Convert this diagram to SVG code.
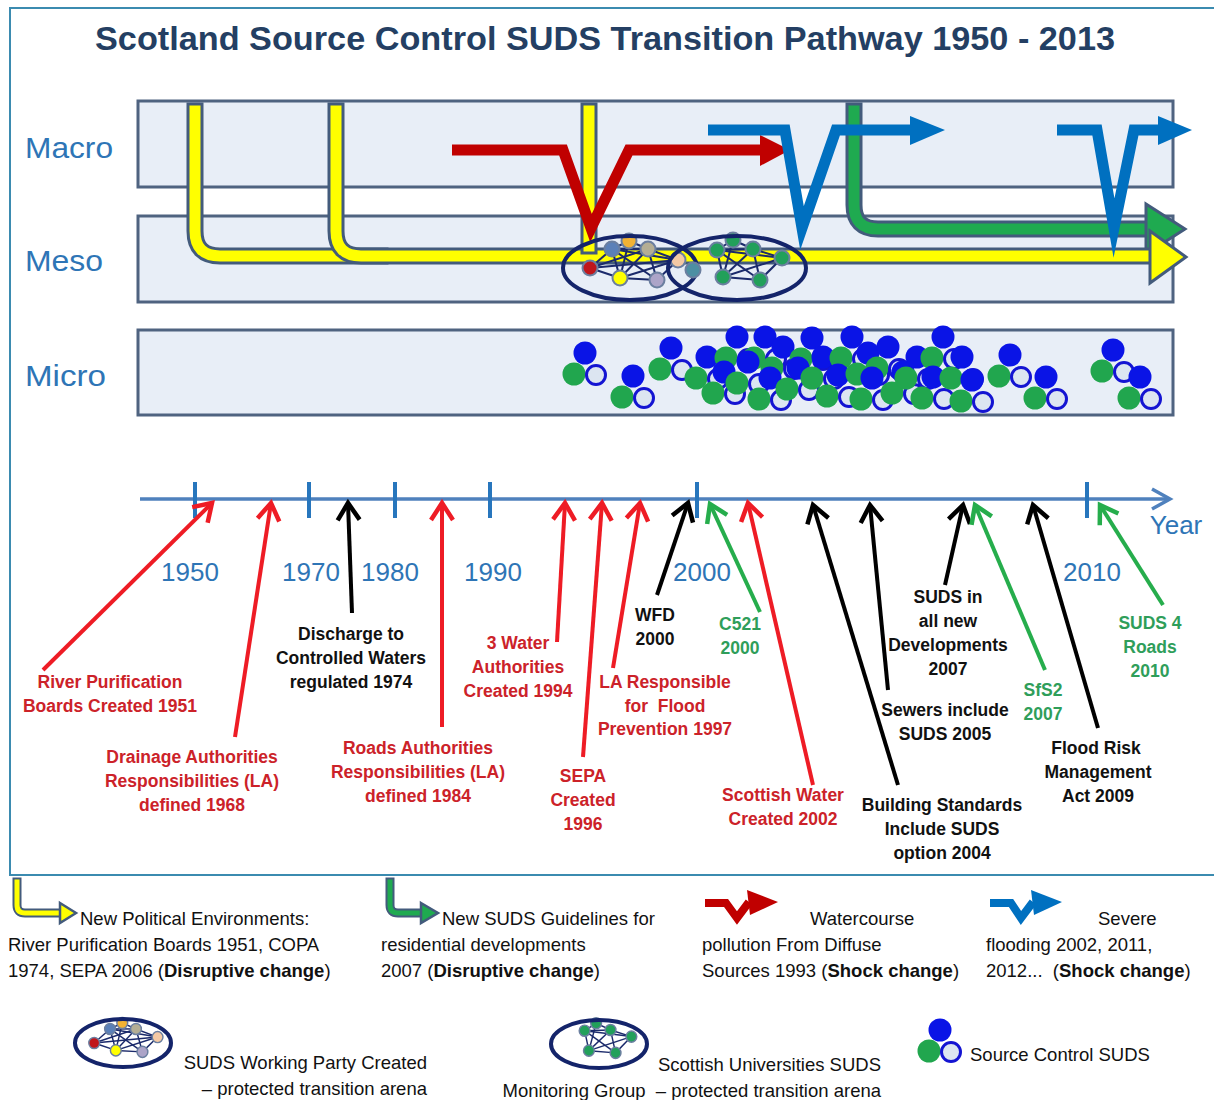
<svg xmlns="http://www.w3.org/2000/svg" width="1214" height="1100" viewBox="0 0 1214 1100">
<style>
text{font-family:"Liberation Sans",Arial,sans-serif}
.band{fill:#e8eef7;stroke:#4f6380;stroke-width:3}
.lvl{font-size:30px;fill:#2e75b6}
.yr{font-size:26px;fill:#2e75b6;text-anchor:middle}
.lb{font-size:17.5px;font-weight:bold;text-anchor:middle}
.r{fill:#cc2229}
.k{fill:#111}
.g{fill:#2f9e5a}
.ar{stroke:#ee1c25;stroke-width:4;fill:none;marker-end:url(#mr)}
.ak{stroke:#000;stroke-width:4;fill:none;marker-end:url(#mk)}
.ag{stroke:#26ad4c;stroke-width:4;fill:none;marker-end:url(#mg)}
.lg{font-size:18.5px;fill:#111}
.ol{fill:none;stroke:#435b7c;stroke-width:17;stroke-linecap:square;stroke-linejoin:round}
.yl{fill:none;stroke:#ffff00;stroke-width:11;stroke-linecap:square;stroke-linejoin:round}
.gl{fill:none;stroke:#1faa50;stroke-width:11;stroke-linecap:square;stroke-linejoin:round}
.oli{fill:none;stroke:#435b7c;stroke-width:9;stroke-linecap:square;stroke-linejoin:round}
.yli{fill:none;stroke:#ffff00;stroke-width:5;stroke-linecap:square;stroke-linejoin:round}
.gli{fill:none;stroke:#1faa50;stroke-width:5;stroke-linecap:square;stroke-linejoin:round}
.shr{fill:none;stroke:#c00000;stroke-width:11;stroke-linejoin:miter;stroke-miterlimit:10}
.shb{fill:none;stroke:#0070c0;stroke-width:11;stroke-linejoin:miter;stroke-miterlimit:10}
.ed line{stroke:#1b2a6b;stroke-width:2}
.nd{stroke:#6b7fa0;stroke-width:2}
.ell{fill:none;stroke:#14246a;stroke-width:4}
.tick{stroke:#2776bd;stroke-width:4}
</style>
<defs>
<marker id="mr" markerUnits="userSpaceOnUse" markerWidth="40" markerHeight="40" refX="0" refY="0" orient="auto" style="overflow:visible"><path d="M-17,-11 L0,0 L-17,11" fill="none" stroke="#ee1c25" stroke-width="4.5"/></marker>
<marker id="mk" markerUnits="userSpaceOnUse" markerWidth="40" markerHeight="40" refX="0" refY="0" orient="auto" style="overflow:visible"><path d="M-17,-11 L0,0 L-17,11" fill="none" stroke="#000" stroke-width="4.5"/></marker>
<marker id="mg" markerUnits="userSpaceOnUse" markerWidth="40" markerHeight="40" refX="0" refY="0" orient="auto" style="overflow:visible"><path d="M-17,-11 L0,0 L-17,11" fill="none" stroke="#26ad4c" stroke-width="4.5"/></marker>
<g id="sc">
 <circle cx="0" cy="0" r="11.5" fill="#0a14e6"/>
 <circle cx="-11" cy="21" r="11.5" fill="#21a64e"/>
 <circle cx="11" cy="22" r="9.5" fill="#dce5f1" stroke="#1414d2" stroke-width="3"/>
</g>
<g id="n1">
 <g class="ed">
  <line x1="-40" y1="0" x2="-18" y2="-19"/><line x1="-40" y1="0" x2="-10" y2="10"/><line x1="-40" y1="0" x2="18" y2="-19"/><line x1="-40" y1="0" x2="48" y2="-8"/>
  <line x1="-18" y1="-19" x2="-1" y2="-27"/><line x1="-18" y1="-19" x2="-10" y2="10"/><line x1="-18" y1="-19" x2="27" y2="12"/><line x1="-18" y1="-19" x2="48" y2="-8"/>
  <line x1="-1" y1="-27" x2="18" y2="-19"/><line x1="-1" y1="-27" x2="-10" y2="10"/><line x1="18" y1="-19" x2="-10" y2="10"/><line x1="18" y1="-19" x2="27" y2="12"/>
  <line x1="18" y1="-19" x2="48" y2="-8"/><line x1="-10" y1="10" x2="27" y2="12"/><line x1="-10" y1="10" x2="48" y2="-8"/><line x1="27" y1="12" x2="48" y2="-8"/><line x1="-18" y1="-19" x2="18" y2="-19"/>
 </g>
 <circle class="nd" cx="-40" cy="0" r="7.5" fill="#c0161b"/>
 <circle class="nd" cx="-18" cy="-19" r="7.5" fill="#5b80b8"/>
 <circle class="nd" cx="-1" cy="-27" r="7.5" fill="#f2b234"/>
 <circle class="nd" cx="18" cy="-19" r="7.5" fill="#b4ae94"/>
 <circle class="nd" cx="-10" cy="10" r="7.5" fill="#ffff00"/>
 <circle class="nd" cx="27" cy="12" r="7.5" fill="#aca4c8"/>
 <circle class="nd" cx="48" cy="-8" r="7.5" fill="#f4c9a4"/>
</g>
<g id="n2">
 <g class="ed">
  <line x1="-4" y1="-28" x2="-20" y2="-18"/><line x1="-4" y1="-28" x2="16" y2="-19"/><line x1="-20" y1="-18" x2="16" y2="-19"/><line x1="-20" y1="-18" x2="45" y2="-10"/>
  <line x1="-20" y1="-18" x2="-14" y2="9"/><line x1="-20" y1="-18" x2="23" y2="12"/><line x1="16" y1="-19" x2="45" y2="-10"/><line x1="16" y1="-19" x2="-14" y2="9"/>
  <line x1="45" y1="-10" x2="23" y2="12"/><line x1="-14" y1="9" x2="23" y2="12"/><line x1="-4" y1="-28" x2="-14" y2="9"/><line x1="16" y1="-19" x2="23" y2="12"/><line x1="45" y1="-10" x2="-14" y2="9"/>
 </g>
 <circle class="nd" cx="-4" cy="-28" r="7.5" fill="#22a05a"/>
 <circle class="nd" cx="-20" cy="-18" r="7.5" fill="#22a05a"/>
 <circle class="nd" cx="16" cy="-19" r="7.5" fill="#22a05a"/>
 <circle class="nd" cx="45" cy="-10" r="7.5" fill="#22a05a"/>
 <circle class="nd" cx="-14" cy="9" r="7.5" fill="#22a05a"/>
 <circle class="nd" cx="23" cy="12" r="7.5" fill="#22a05a"/>
</g>
</defs>

<rect width="1214" height="1100" fill="#ffffff"/>
<rect id="frame" x="10" y="8" width="1220" height="867" fill="none" stroke="#3b8bb0" stroke-width="2"/>

<g id="title"><text x="95" y="50" font-size="34" font-weight="bold" fill="#243f63" textLength="1020" lengthAdjust="spacingAndGlyphs">Scotland Source Control SUDS Transition Pathway 1950 - 2013</text></g>

<g id="band-macro"><rect class="band" x="138" y="101" width="1035" height="86"/><text class="lvl" x="25" y="158" textLength="88" lengthAdjust="spacingAndGlyphs">Macro</text></g>
<g id="band-meso"><rect class="band" x="138" y="216" width="1035" height="86"/><text class="lvl" x="25" y="271" textLength="78" lengthAdjust="spacingAndGlyphs">Meso</text></g>
<g id="band-micro"><rect class="band" x="138" y="330" width="1035" height="85"/><text class="lvl" x="25" y="386" textLength="81" lengthAdjust="spacingAndGlyphs">Micro</text></g>

<g id="pathways">
 <path class="ol" d="M854,111 V205 Q854,229 878,229 H1146"/>
 <path class="gl" d="M854,111 V205 Q854,229 878,229 H1146"/>
 <polygon points="1146,204 1185,229 1146,254" fill="#1faa50" stroke="#435b7c" stroke-width="3"/>
 <path class="ol" d="M195,111 V231 Q195,256 220,256 H380"/>
 <path class="yl" d="M195,111 V231 Q195,256 220,256 H380"/>
 <path class="ol" d="M336,111 V231 Q336,256 361,256 H1150"/>
 <path class="yl" d="M336,111 V231 Q336,256 361,256 H1150"/>
 <path class="ol" d="M589,111 V246"/>
 <path class="yl" d="M589,111 V246"/>
 <polygon points="1150,231 1186,257 1150,283" fill="#ffff00" stroke="#435b7c" stroke-width="3"/>
 <path class="shr" d="M452,150 H563 L591,228 L629,150 H762"/>
 <polygon points="760,135 790,150 760,166" fill="#c00000"/>
 <path class="shb" d="M708,130 H785 L802,228 L836,130 H912"/>
 <polygon points="910,116 945,130 910,145" fill="#0070c0"/>
 <path class="shb" d="M1057,130 H1097 L1114,228 L1134,130 H1160"/>
 <polygon points="1158,116 1192,130 1158,145" fill="#0070c0"/>
</g>

<g id="arena-1">
 <use href="#n1" transform="translate(630,268)"/>
 <ellipse class="ell" cx="630" cy="268" rx="67" ry="32"/>
</g>
<g id="arena-2">
 <use href="#n2" transform="translate(737,268)"/>
 <ellipse class="ell" cx="737" cy="268" rx="69" ry="32"/>
 <circle class="nd" cx="693" cy="270" r="7.5" fill="#4d8fa3"/>
</g>

<g id="micro-suds">
 <use href="#sc" x="585" y="353"/><use href="#sc" x="633" y="376"/><use href="#sc" x="671" y="348"/><use href="#sc" x="707" y="357"/>
 <use href="#sc" x="737" y="337"/><use href="#sc" x="724" y="372"/><use href="#sc" x="765" y="337"/><use href="#sc" x="748" y="362"/>
 <use href="#sc" x="783" y="347"/><use href="#sc" x="770" y="378"/><use href="#sc" x="812" y="338"/><use href="#sc" x="798" y="368"/>
 <use href="#sc" x="823" y="357"/><use href="#sc" x="852" y="337"/><use href="#sc" x="838" y="375"/><use href="#sc" x="868" y="353"/>
 <use href="#sc" x="888" y="347"/><use href="#sc" x="872" y="378"/><use href="#sc" x="903" y="372"/><use href="#sc" x="917" y="357"/>
 <use href="#sc" x="943" y="337"/><use href="#sc" x="933" y="377"/><use href="#sc" x="962" y="357"/><use href="#sc" x="972" y="380"/>
 <use href="#sc" x="1010" y="355"/><use href="#sc" x="1046" y="377"/><use href="#sc" x="1113" y="350"/><use href="#sc" x="1140" y="377"/>
</g>

<g id="timeline">
 <line x1="140" y1="499" x2="1168" y2="499" stroke="#4f81bd" stroke-width="3.5"/>
 <path d="M1152,489 L1170,499 L1152,509" fill="none" stroke="#4f81bd" stroke-width="3.5"/>
 <line class="tick" x1="195" y1="482" x2="195" y2="518"/><line class="tick" x1="309" y1="482" x2="309" y2="518"/>
 <line class="tick" x1="395" y1="482" x2="395" y2="518"/><line class="tick" x1="490" y1="482" x2="490" y2="518"/>
 <line class="tick" x1="697" y1="482" x2="697" y2="518"/><line class="tick" x1="1087" y1="482" x2="1087" y2="518"/>
 <text class="yr" x="190" y="581">1950</text><text class="yr" x="311" y="581">1970</text><text class="yr" x="390" y="581">1980</text>
 <text class="yr" x="493" y="581">1990</text><text class="yr" x="702" y="581">2000</text><text class="yr" x="1092" y="581">2010</text>
 <text class="yr" x="1176" y="534">Year</text>
</g>

<g id="connectors">
 <line class="ar" x1="43" y1="670" x2="212" y2="503"/>
 <line class="ar" x1="235" y1="737" x2="271" y2="503"/>
 <line class="ak" x1="352" y1="613" x2="348" y2="503"/>
 <line class="ar" x1="442" y1="727" x2="442" y2="503"/>
 <line class="ar" x1="557" y1="642" x2="565" y2="503"/>
 <line class="ar" x1="583" y1="757" x2="602" y2="503"/>
 <line class="ar" x1="613" y1="668" x2="640" y2="503"/>
 <line class="ak" x1="657" y1="595" x2="688" y2="503"/>
 <line class="ag" x1="760" y1="612" x2="710" y2="504"/>
 <line class="ar" x1="813" y1="785" x2="748" y2="503"/>
 <line class="ak" x1="898" y1="785" x2="813" y2="505"/>
 <line class="ak" x1="888" y1="690" x2="870" y2="505"/>
 <line class="ak" x1="945" y1="585" x2="963" y2="505"/>
 <line class="ag" x1="1045" y1="670" x2="975" y2="505"/>
 <line class="ak" x1="1098" y1="728" x2="1033" y2="505"/>
 <line class="ag" x1="1163" y1="605" x2="1100" y2="505"/>
</g>

<g id="event-labels">
 <text class="lb r" x="110" y="688"><tspan x="110">River Purification</tspan><tspan x="110" dy="23.5">Boards Created 1951</tspan></text>
 <text class="lb r" x="192" y="763"><tspan x="192">Drainage Authorities</tspan><tspan x="192" dy="24">Responsibilities (LA)</tspan><tspan x="192" dy="24">defined 1968</tspan></text>
 <text class="lb k" x="351" y="640"><tspan x="351">Discharge to</tspan><tspan x="351" dy="24">Controlled Waters</tspan><tspan x="351" dy="24">regulated 1974</tspan></text>
 <text class="lb r" x="418" y="754"><tspan x="418">Roads Authorities</tspan><tspan x="418" dy="24">Responsibilities (LA)</tspan><tspan x="418" dy="24">defined 1984</tspan></text>
 <text class="lb r" x="518" y="649"><tspan x="518">3 Water</tspan><tspan x="518" dy="24">Authorities</tspan><tspan x="518" dy="24">Created 1994</tspan></text>
 <text class="lb r" x="583" y="782"><tspan x="583">SEPA</tspan><tspan x="583" dy="24">Created</tspan><tspan x="583" dy="23.5">1996</tspan></text>
 <text class="lb r" x="665" y="688" xml:space="preserve"><tspan x="665">LA Responsible</tspan><tspan x="665" dy="23.5">for  Flood</tspan><tspan x="665" dy="23.5">Prevention 1997</tspan></text>
 <text class="lb k" x="655" y="621"><tspan x="655">WFD</tspan><tspan x="655" dy="23.5">2000</tspan></text>
 <text class="lb g" x="740" y="630"><tspan x="740">C521</tspan><tspan x="740" dy="23.5">2000</tspan></text>
 <text class="lb r" x="783" y="801"><tspan x="783">Scottish Water</tspan><tspan x="783" dy="24">Created 2002</tspan></text>
 <text class="lb k" x="942" y="811"><tspan x="942">Building Standards</tspan><tspan x="942" dy="24">Include SUDS</tspan><tspan x="942" dy="23.5">option 2004</tspan></text>
 <text class="lb k" x="945" y="716"><tspan x="945">Sewers include</tspan><tspan x="945" dy="23.5">SUDS 2005</tspan></text>
 <text class="lb k" x="948" y="603"><tspan x="948">SUDS in</tspan><tspan x="948" dy="23.5">all new</tspan><tspan x="948" dy="24">Developments</tspan><tspan x="948" dy="24">2007</tspan></text>
 <text class="lb g" x="1043" y="696"><tspan x="1043">SfS2</tspan><tspan x="1043" dy="23.5">2007</tspan></text>
 <text class="lb k" x="1096" y="754"><tspan x="1096">Flood Risk</tspan><tspan x="1098" dy="24">Management</tspan><tspan x="1098" dy="24">Act 2009</tspan></text>
 <text class="lb g" x="1150" y="629"><tspan x="1150">SUDS 4</tspan><tspan x="1150" dy="24">Roads</tspan><tspan x="1150" dy="24">2010</tspan></text>
</g>

<g id="legend-political">
 <path class="oli" d="M17,882 V905 Q17,913 25,913 H61"/>
 <path class="yli" d="M17,882 V905 Q17,913 25,913 H61"/>
 <polygon points="60,903 76,913 60,923" fill="#ffff00" stroke="#435b7c" stroke-width="2.5"/>
 <text class="lg" x="80" y="925">New Political Environments:</text>
 <text class="lg" x="8" y="951">River Purification Boards 1951, COPA</text>
 <text class="lg" x="8" y="977">1974, SEPA 2006 (<tspan font-weight="bold">Disruptive change</tspan>)</text>
</g>
<g id="legend-guidelines">
 <path class="oli" d="M390,882 V905 Q390,913 398,913 H422"/>
 <path class="gli" d="M390,882 V905 Q390,913 398,913 H422"/>
 <polygon points="421,903 438,913 421,923" fill="#1faa50" stroke="#435b7c" stroke-width="2.5"/>
 <text class="lg" x="442" y="925">New SUDS Guidelines for</text>
 <text class="lg" x="381" y="951">residential developments</text>
 <text class="lg" x="381" y="977">2007 (<tspan font-weight="bold">Disruptive change</tspan>)</text>
</g>
<g id="legend-pollution">
 <path d="M705,903 H726 L737,918 L749,902" fill="none" stroke="#c00000" stroke-width="8" stroke-linejoin="miter"/>
 <polygon points="747,890 778,902 750,915" fill="#c00000"/>
 <text class="lg" x="810" y="925">Watercourse</text>
 <text class="lg" x="702" y="951">pollution From Diffuse</text>
 <text class="lg" x="702" y="977">Sources 1993 (<tspan font-weight="bold">Shock change</tspan>)</text>
</g>
<g id="legend-flooding">
 <path d="M990,903 H1011 L1021,918 L1033,902" fill="none" stroke="#0070c0" stroke-width="8" stroke-linejoin="miter"/>
 <polygon points="1031,890 1062,902 1034,915" fill="#0070c0"/>
 <text class="lg" x="1098" y="925">Severe</text>
 <text class="lg" x="986" y="951">flooding 2002, 2011,</text>
 <text class="lg" x="986" y="977" xml:space="preserve">2012...  (<tspan font-weight="bold">Shock change</tspan>)</text>
</g>
<g id="legend-working-party">
 <use href="#n1" transform="translate(123,1043) scale(0.72,0.74)"/>
 <ellipse class="ell" cx="123" cy="1043" rx="48" ry="24"/>
 <text class="lg" x="427" y="1069" text-anchor="end">SUDS Working Party Created</text>
 <text class="lg" x="427" y="1095" text-anchor="end">– protected transition arena</text>
</g>
<g id="legend-monitoring">
 <use href="#n2" transform="translate(599,1044) scale(0.72,0.74)"/>
 <ellipse class="ell" cx="599" cy="1044" rx="48" ry="24"/>
 <text class="lg" x="881" y="1071" text-anchor="end">Scottish Universities SUDS</text>
 <text class="lg" x="881" y="1097" text-anchor="end" xml:space="preserve">Monitoring Group  – protected transition arena</text>
</g>
<g id="legend-source-control">
 <use href="#sc" x="940" y="1030"/>
 <text class="lg" x="970" y="1061">Source Control SUDS</text>
</g>
</svg>
